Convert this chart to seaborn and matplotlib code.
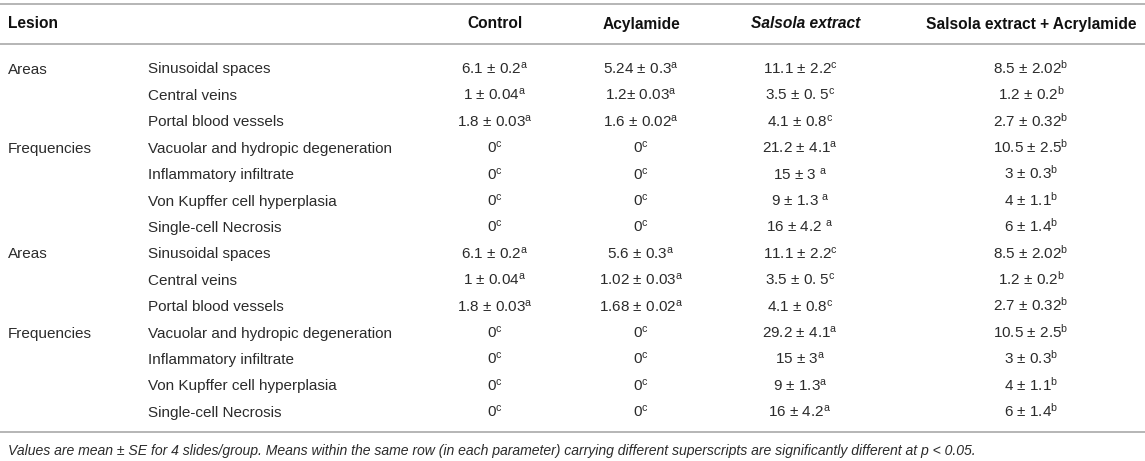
import matplotlib
matplotlib.use("Agg")
import matplotlib.pyplot as plt
import seaborn as sns
import pandas as pd

# table content
columns = ["Control", "Acylamide", "Salsola extract", "Salsola extract + Acrylamide"]
lesions = ["Sinusoidal spaces", "Central veins", "Portal blood vessels",
           "Vacuolar and hydropic degeneration", "Inflammatory infiltrate",
           "Von Kupffer cell hyperplasia", "Single-cell Necrosis"] * 2
groups = ["Areas", "", "", "Frequencies", "", "", "",
          "Areas", "", "", "Frequencies", "", "", ""]

control = ["6.1 ± 0.2$^{a}$", "1 ± 0.04$^{a}$", "1.8 ± 0.03$^{a}$",
           "0$^{c}$", "0$^{c}$", "0$^{c}$", "0$^{c}$",
           "6.1 ± 0.2$^{a}$", "1 ± 0.04$^{a}$", "1.8 ± 0.03$^{a}$",
           "0$^{c}$", "0$^{c}$", "0$^{c}$", "0$^{c}$"]
acylamide = ["5.24 ± 0.3$^{a}$", "1.2± 0.03$^{a}$", "1.6 ± 0.02$^{a}$",
             "0$^{c}$", "0$^{c}$", "0$^{c}$", "0$^{c}$",
             "5.6 ± 0.3$^{a}$", "1.02 ± 0.03$^{a}$", "1.68 ± 0.02$^{a}$",
             "0$^{c}$", "0$^{c}$", "0$^{c}$", "0$^{c}$"]
salsola = ["11.1 ± 2.2$^{c}$", "3.5 ± 0. 5$^{c}$", "4.1 ± 0.8$^{c}$",
           "21.2 ± 4.1$^{a}$", "15 ± 3 $^{a}$", "9 ± 1.3 $^{a}$", "16 ± 4.2 $^{a}$",
           "11.1 ± 2.2$^{c}$", "3.5 ± 0. 5$^{c}$", "4.1 ± 0.8$^{c}$",
           "29.2 ± 4.1$^{a}$", "15 ± 3$^{a}$", "9 ± 1.3$^{a}$", "16 ± 4.2$^{a}$"]
salsola_acr = ["8.5 ± 2.02$^{b}$", "1.2 ± 0.2$^{b}$", "2.7 ± 0.32$^{b}$",
               "10.5 ± 2.5$^{b}$", "3 ± 0.3$^{b}$", "4 ± 1.1$^{b}$", "6 ± 1.4$^{b}$",
               "8.5 ± 2.02$^{b}$", "1.2 ± 0.2$^{b}$", "2.7 ± 0.32$^{b}$",
               "10.5 ± 2.5$^{b}$", "3 ± 0.3$^{b}$", "4 ± 1.1$^{b}$", "6 ± 1.4$^{b}$"]
footnote = ("Values are mean ± SE for 4 slides/group. Means within the same row "
            "(in each parameter) carrying different superscripts are significantly "
            "different at p < 0.05.")

df = pd.DataFrame({"group": groups, "lesion": lesions, columns[0]: control,
                   columns[1]: acylamide, columns[2]: salsola, columns[3]: salsola_acr})

sns.set_theme(style="white")
plt.rcParams["font.family"] = ["Liberation Sans", "DejaVu Sans"]
plt.rcParams["mathtext.fontset"] = "custom"
plt.rcParams["mathtext.rm"] = "Liberation Sans"
plt.rcParams["mathtext.it"] = "Liberation Sans"
plt.rcParams["mathtext.bf"] = "Liberation Sans:bold"

# layout in pixels
W, H = 1145, 461
col_x = [495, 641, 800, 1031]
head_x = [495, 641, 806, 1031]
group_x, lesion_x = 8, 148
head_y = 23
row_y0, row_dy = 68, 26.4
fs = 11
base_off = 5.5
body_col = "#2b2b2b"
line_col = "#b5b5b5"

fig = plt.figure(figsize=(W / 100, H / 100), dpi=100)
ax = fig.add_axes([0, 0, 1, 1])
ax.set_xlim(0, W)
ax.set_ylim(H, 0)
ax.axis("off")

for y in (4, 44, 432):
    ax.axhline(y, xmin=0, xmax=1, color=line_col, lw=1.4)

ax.text(group_x, head_y + base_off, "Lesion", ha="left", va="baseline", fontsize=11.2,
        fontweight="bold", color="#111111")
for i, name in enumerate(columns):
    ax.text(head_x[i], head_y + base_off, name, ha="center", va="baseline", fontsize=11.2,
            fontweight="bold", color="#111111",
            style="italic" if name == "Salsola extract" else "normal")

for r, row in df.iterrows():
    y = row_y0 + r * row_dy + base_off
    if row["group"]:
        ax.text(group_x, y, row["group"], ha="left", va="baseline", fontsize=fs, color=body_col)
    ax.text(lesion_x, y, row["lesion"], ha="left", va="baseline", fontsize=fs, color=body_col)
    for i, name in enumerate(columns):
        ax.text(col_x[i], y, row[name], ha="center", va="baseline",
                fontsize=fs, color=body_col)

ax.text(group_x, 450 + 5, footnote, ha="left", va="baseline", fontsize=10.1,
        style="italic", color=body_col)

fig.savefig("out.png", dpi=100)
